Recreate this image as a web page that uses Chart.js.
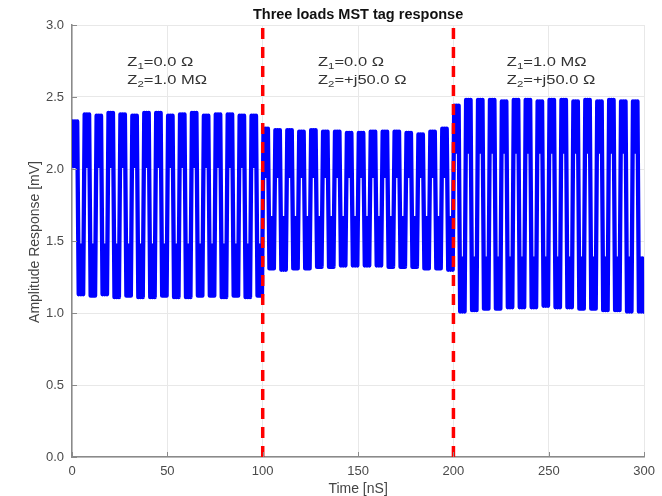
<!DOCTYPE html>
<html>
<head>
<meta charset="utf-8">
<script src="https://cdn.jsdelivr.net/npm/chart.js@4.4.1/dist/chart.umd.min.js"></script>
<style>
  body { margin: 0; background: #fff; }
  #myChart { display: block; }
</style>
</head>
<body>
<canvas id="myChart" width="662" height="496"></canvas>
<script>
// peak values per cycle (16 cycles per load)
const highs1 = [2.33, 2.38, 2.37, 2.39, 2.38, 2.37, 2.39, 2.39, 2.37, 2.38, 2.39, 2.37, 2.38, 2.38, 2.37, 2.37]
const lows1 = [1.13, 1.12, 1.13, 1.11, 1.12, 1.11, 1.11, 1.12, 1.11, 1.11, 1.12, 1.12, 1.11, 1.12, 1.11, 1.12]
const highs2 = [2.28, 2.27, 2.27, 2.26, 2.27, 2.26, 2.26, 2.25, 2.25, 2.26, 2.26, 2.26, 2.25, 2.24, 2.26, 2.28]
const lows2 = [1.31, 1.30, 1.31, 1.31, 1.32, 1.32, 1.33, 1.33, 1.33, 1.33, 1.32, 1.32, 1.32, 1.31, 1.31, 1.30]
const highs3 = [2.44, 2.48, 2.48, 2.48, 2.47, 2.48, 2.48, 2.47, 2.48, 2.48, 2.47, 2.48, 2.47, 2.48, 2.47, 2.47]
const lows3 = [1.01, 1.02, 1.03, 1.03, 1.04, 1.04, 1.04, 1.05, 1.04, 1.04, 1.03, 1.03, 1.02, 1.02, 1.01, 1.01]
// inner edge of the upper / lower ripple band for each load
const upperFloor = [2.02, 1.95, 2.12]
const lowerCeil = [1.47, 1.66, 1.38]

const xTicks = [0, 50, 100, 150, 200, 250, 300]
const yTicks = [0, 0.5, 1.0, 1.5, 2.0, 2.5, 3.0]
const boundaries = [100, 200]
const loadStart = [29, 129, 228]
const z1Labels = ['0.0 Ω', '0.0 Ω', '1.0 MΩ']
const z2Labels = ['1.0 MΩ', '+j50.0 Ω', '+j50.0 Ω']

const ctx = document.getElementById('myChart')
const FONT = "'Liberation Sans', Arial, sans-serif"

const buildSignal = function () {
  const segs = [
    [highs1, lows1],
    [highs2, lows2],
    [highs3, lows3],
  ]
  const pts = []
  segs.forEach(([hi, lo], s) => {
    const period = 100 / hi.length
    const st = period / 8
    const fl = upperFloor[s]
    const ce = lowerCeil[s]
    hi.forEach((h, i) => {
      const t0 = s * 100 + i * period
      // rise, upper ripple band, fall, lower ripple band
      pts.push({ x: t0 + 0.5 * st, y: h })
      pts.push({ x: t0 + 1.25 * st, y: fl })
      pts.push({ x: t0 + 2 * st, y: h })
      pts.push({ x: t0 + 2.75 * st, y: fl })
      pts.push({ x: t0 + 3.5 * st, y: h })
      pts.push({ x: t0 + 4.5 * st, y: lo[i] })
      pts.push({ x: t0 + 5.25 * st, y: ce })
      pts.push({ x: t0 + 6 * st, y: lo[i] })
      pts.push({ x: t0 + 6.75 * st, y: ce })
      pts.push({ x: t0 + 7.5 * st, y: lo[i] })
    })
  })
  return pts
}

const drawSub = function (c, x, y, sub, rest) {
  c.save()
  c.translate(x, y)
  c.scale(1.27, 1)
  c.font = '13px ' + FONT
  c.fillText('Z', 0, 0)
  let w = c.measureText('Z').width
  c.font = '9px ' + FONT
  c.fillText(sub, w, 5)
  w += c.measureText(sub).width
  c.font = '13px ' + FONT
  c.fillText('=' + rest, w, 0)
  c.restore()
}

const decorations = {
  id: 'decorations',
  afterDatasetsDraw(chart) {
    const c = chart.ctx
    const { left, right, top, bottom } = chart.chartArea
    const xs = chart.scales.x
    const ys = chart.scales.y
    c.save()
    // inward ticks
    c.strokeStyle = '#8a8a8a'
    c.lineWidth = 1
    c.beginPath()
    yTicks.forEach((v) => {
      const py = Math.round(ys.getPixelForValue(v)) + 0.5
      c.moveTo(left, py)
      c.lineTo(left + 5, py)
    })
    xTicks.forEach((v) => {
      const px = Math.round(xs.getPixelForValue(v)) + 0.5
      c.moveTo(px, bottom)
      c.lineTo(px, bottom - 5)
    })
    c.stroke()

    // load annotations
    c.fillStyle = '#333'
    c.textBaseline = 'middle'
    c.textAlign = 'left'
    loadStart.forEach((t, i) => {
      const px = xs.getPixelForValue(t)
      drawSub(c, px, 62, '1', z1Labels[i])
      drawSub(c, px, 80, '2', z2Labels[i])
    })

    // titles
    c.textAlign = 'center'
    c.fillStyle = '#111'
    c.font = 'bold 14.5px ' + FONT
    c.fillText('Three loads MST tag response', (left + right) / 2, 15)
    c.fillStyle = '#444'
    c.font = '14px ' + FONT
    c.fillText('Time [nS]', (left + right) / 2, 489)
    c.translate(35.5, (top + bottom) / 2 + 1)
    c.rotate(-Math.PI / 2)
    c.fillText('Amplitude Response [mV]', 0, 0)
    c.restore()
  },
}

const myChart = new Chart(ctx, {
  type: 'line',
  data: {
    datasets: [
      ...boundaries.map((b) => ({
        data: [
          { x: b, y: 0 },
          { x: b, y: 3 },
        ],
        borderColor: '#ff0000',
        borderWidth: 3.5,
        borderDash: [11, 8],
        pointRadius: 0,
        order: 0,
      })),
      {
        data: buildSignal(),
        borderColor: '#0000ff',
        borderWidth: 4.3,
        borderJoinStyle: 'round',
        borderCapStyle: 'round',
        pointRadius: 0,
        tension: 0,
        order: 1,
      },
    ],
  },
  options: {
    responsive: false,
    animation: false,
    layout: { padding: { top: 25, right: 17, left: 0, bottom: 0 } },
    plugins: { legend: { display: false }, tooltip: { enabled: false } },
    scales: {
      x: {
        type: 'linear',
        min: 0,
        max: 300,
        afterFit: (s) => (s.height = 39),
        afterBuildTicks: (s) => (s.ticks = xTicks.map((v) => ({ value: v }))),
        grid: { color: '#e8e8e8', drawTicks: false },
        border: { color: '#8a8a8a', width: 1.5 },
        ticks: { padding: 7, color: '#4a4a4a', font: { family: FONT, size: 13 } },
      },
      y: {
        min: 0,
        max: 3,
        afterFit: (s) => (s.width = 72),
        afterBuildTicks: (s) => (s.ticks = yTicks.map((v) => ({ value: v }))),
        grid: { color: '#e8e8e8', drawTicks: false },
        border: { color: '#8a8a8a', width: 1.5 },
        ticks: {
          padding: 8,
          color: '#4a4a4a',
          font: { family: FONT, size: 13 },
          callback: (v) => v.toFixed(1),
        },
      },
    },
  },
  plugins: [decorations],
})
</script>
</body>
</html>
